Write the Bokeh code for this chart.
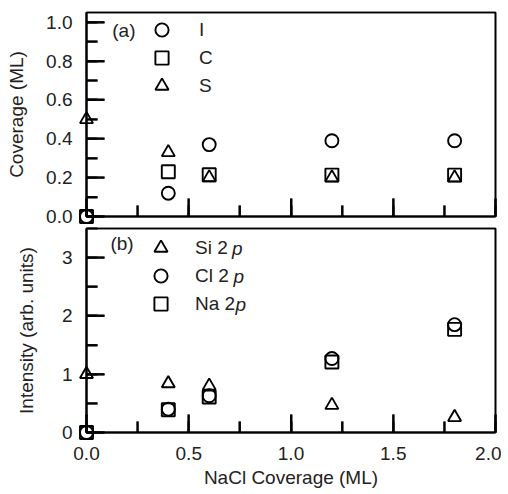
import numpy as np
from bokeh.plotting import figure
from bokeh.models import (SingleIntervalTicker, NumeralTickFormatter, Legend, LegendItem,
                          Label, Range1d)
from bokeh.layouts import column
from bokeh.embed import file_html
from bokeh.resources import INLINE

# ---- data ----
nacl = [0.0, 0.4, 0.6, 1.2, 1.8]
cov_I = [0.0, 0.12, 0.37, 0.39, 0.39]
cov_C = [0.0, 0.23, 0.215, 0.213, 0.213]
cov_S = [0.50, 0.33, 0.20, 0.20, 0.20]

int_Si = [1.0, 0.84, 0.80, 0.47, 0.26]
int_Cl = [0.0, 0.40, 0.63, 1.27, 1.85]
int_Na = [0.0, 0.39, 0.61, 1.21, 1.77]

labels_a = ["I", "C", "S"]
labels_b = ["Si 2", "Cl 2", "Na 2"]

FS = "19px"
MS = 13
LW = 1.9
TXT = "#222222"
MAJ_LEN = 18
MIN_LEN = 11


def style(p, yint, yfmt, show_xlabels):
    p.outline_line_color = "black"
    p.outline_line_width = 1.6
    p.xgrid.visible = False
    p.ygrid.visible = False
    p.xaxis.ticker = SingleIntervalTicker(interval=0.5, num_minor_ticks=2)
    p.yaxis.ticker = SingleIntervalTicker(interval=yint, num_minor_ticks=2)
    p.yaxis.formatter = NumeralTickFormatter(format=yfmt)
    p.xaxis.formatter = NumeralTickFormatter(format="0.0")
    for ax in (p.xaxis[0], p.yaxis[0]):
        ax.axis_line_width = 2
        ax.major_tick_in = MAJ_LEN
        ax.major_tick_out = 0
        ax.minor_tick_in = MIN_LEN
        ax.minor_tick_out = 0
        ax.major_tick_line_width = 2
        ax.minor_tick_line_width = 2
        ax.major_label_text_font_size = FS
        ax.major_label_text_color = TXT
        ax.axis_label_text_font_size = FS
        ax.axis_label_text_font_style = "normal"
        ax.axis_label_text_color = TXT
    p.yaxis.major_label_standoff = 14
    if show_xlabels:
        p.xaxis.major_label_standoff = 14
        p.xaxis.axis_label_standoff = 4
    else:
        p.xaxis.major_label_text_alpha = 0
        p.xaxis.major_label_text_font_size = "1px"
        p.xaxis.major_label_standoff = 0

    # frame box and inward tick marks, derived from the ranges and tick intervals
    xr, yr = p.x_range, p.y_range
    p.quad(left=[xr.start], right=[xr.end], bottom=[yr.start], top=[yr.end],
           fill_color=None, line_color="black", line_width=1.6, level="overlay")
    xmaj = np.arange(xr.start, xr.end + 1e-9, 0.5)
    xmin = np.arange(xr.start + 0.25, xr.end, 0.5)
    ymaj = np.arange(yr.start, yr.end + 1e-9, yint)
    ymin = np.arange(yr.start + yint / 2, yr.end - 1e-9, yint)
    for xs, ln in ((xmaj, MAJ_LEN), (xmin, MIN_LEN)):
        p.ray(x=list(xs), y=[yr.start] * len(xs), length=ln, angle=np.pi / 2,
              length_units="screen", line_color="black", line_width=2, level="overlay")
    for ys, ln in ((ymaj, MAJ_LEN), (ymin, MIN_LEN)):
        p.ray(x=[xr.start] * len(ys), y=list(ys), length=ln, angle=0,
              length_units="screen", line_color="black", line_width=2, level="overlay")


def markers(p, x, y, marker):
    return p.scatter(x, y, marker=marker, size=MS, fill_color=None,
                     line_color="black", line_width=LW, level="overlay")


def key(p, label, renderer, vx, vy, standoff):
    leg = Legend(items=[LegendItem(label=label, renderers=[renderer])],
                 location=(vx, vy), glyph_width=33, glyph_height=33, spacing=0,
                 padding=0, margin=0, label_standoff=standoff,
                 label_text_font_size=FS, label_text_color=TXT,
                 background_fill_alpha=0, border_line_alpha=0)
    p.add_layout(leg)


# ---- top panel ----
p1 = figure(frame_width=409, frame_height=204,
            x_range=Range1d(0, 2), y_range=Range1d(0, 1.05),
            output_backend="svg", toolbar_location=None,
            min_border_left=86, min_border_right=6, min_border_top=12, min_border_bottom=10)
style(p1, 0.2, "0.0", False)
p1.yaxis.axis_label = "Coverage (ML)"
p1.yaxis.axis_label_standoff = 16

rI = markers(p1, nacl, cov_I, "circle")
rC = markers(p1, nacl, cov_C, "square")
rS = markers(p1, nacl, cov_S, "triangle")
for lab, r, vy in zip(labels_a, [rI, rC, rS], [170, 142, 114]):
    key(p1, lab, r, 59, vy, 21)
p1.add_layout(Label(x=0.126, y=0.957, text="(a)", text_font_size=FS,
                    text_baseline="middle", text_color=TXT))

# ---- bottom panel ----
p2 = figure(frame_width=409, frame_height=204,
            x_range=Range1d(0, 2), y_range=Range1d(0, 3.5),
            output_backend="svg", toolbar_location=None,
            min_border_left=86, min_border_right=6, min_border_top=2, min_border_bottom=62)
style(p2, 1.0, "0", True)
p2.yaxis.axis_label = "Intensity (arb. units)"
p2.yaxis.axis_label_standoff = 22
p2.xaxis.axis_label = "NaCl Coverage (ML)"

rSi = markers(p2, nacl, int_Si, "triangle")
rCl = markers(p2, nacl, int_Cl, "circle")
rNa = markers(p2, nacl, int_Na, "square")
for lab, r, vy in zip(labels_b, [rSi, rCl, rNa], [168, 140, 112]):
    key(p2, lab, r, 58, vy, 18)
p2.add_layout(Label(x=0.117, y=3.24, text="(b)", text_font_size=FS,
                    text_baseline="middle", text_color=TXT))
for xx, yy in [(0.712, 3.16), (0.719, 2.68), (0.729, 2.20)]:
    p2.add_layout(Label(x=xx, y=yy, text="p", text_font_size=FS,
                        text_font_style="italic", text_baseline="middle",
                        text_color=TXT))

layout = column(p1, p2)
open("out.html", "w").write(file_html(layout, INLINE))
